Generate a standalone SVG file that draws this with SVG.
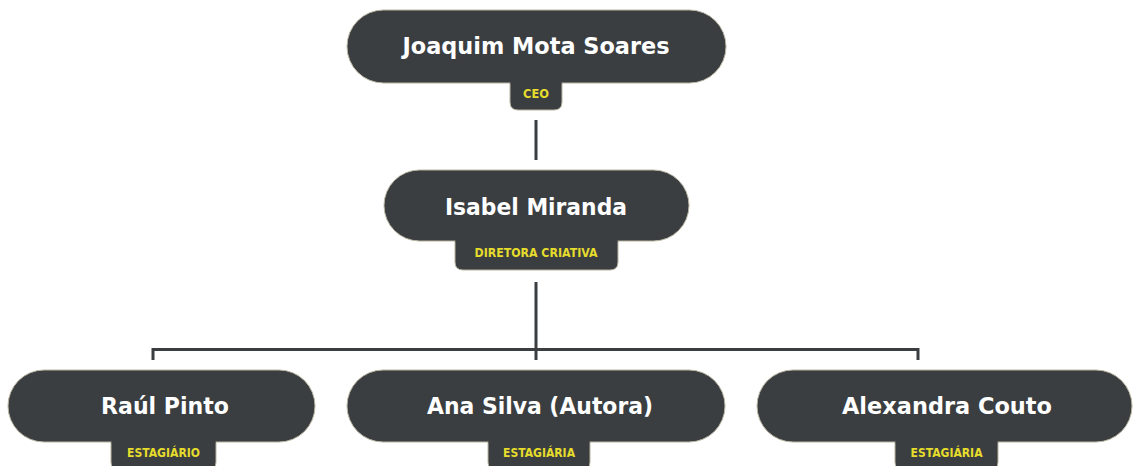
<svg xmlns="http://www.w3.org/2000/svg" width="1133" height="466" viewBox="0 0 1133 466">
<style>
.pill{fill:#3a3e41;stroke:#b9b5a2;stroke-width:1}
.tab{fill:#3a3e41;stroke:#b9b5a2;stroke-width:1}
.seam{fill:#3a3e41}
.name{font-family:"DejaVu Sans",sans-serif;font-weight:bold;font-size:23px;fill:#ffffff;text-anchor:middle}
.role{font-family:"DejaVu Sans",sans-serif;font-weight:bold;font-size:12px;fill:#e6dc2c;text-anchor:middle}
.conn{fill:none;stroke:#3a3e41;stroke-width:3}
</style>
<rect width="1133" height="466" fill="#ffffff"/>
<g id="connectors">
<line class="conn" x1="536" y1="120" x2="536" y2="160"/>
<line class="conn" x1="536" y1="282" x2="536" y2="360"/>
<polyline class="conn" points="153,360 153,349.5 918,349.5 918,360"/>
</g>
<g id="node-joaquim">
<rect class="pill" x="347" y="10" width="379" height="73" rx="36.5"/>
<path class="tab" d="M510,83 V102 Q510,110 518,110 H554 Q562,110 562,102 V83"/>
<rect class="seam" x="510.5" y="80" width="51" height="4"/>
<text class="name" x="536" y="54" textLength="267" lengthAdjust="spacingAndGlyphs">Joaquim Mota Soares</text>
<text class="role" x="536" y="98" textLength="26" lengthAdjust="spacingAndGlyphs">CEO</text>
</g>
<g id="node-isabel">
<rect class="pill" x="384" y="170" width="305" height="71" rx="35.5"/>
<path class="tab" d="M455,241 V262 Q455,270 463,270 H610 Q618,270 618,262 V241"/>
<rect class="seam" x="455.5" y="238" width="162" height="4"/>
<text class="name" x="536" y="215" textLength="182" lengthAdjust="spacingAndGlyphs">Isabel Miranda</text>
<text class="role" x="536" y="257" textLength="123" lengthAdjust="spacingAndGlyphs">DIRETORA CRIATIVA</text>
</g>
<g id="node-raul">
<rect class="pill" x="8" y="370" width="307" height="72" rx="36"/>
<path class="tab" d="M111,442 V462 Q111,470 119,470 H208 Q216,470 216,462 V442"/>
<rect class="seam" x="111.5" y="439" width="104" height="4"/>
<text class="name" x="165" y="414" textLength="128" lengthAdjust="spacingAndGlyphs">Raúl Pinto</text>
<text class="role" x="163.5" y="457" textLength="73" lengthAdjust="spacingAndGlyphs">ESTAGIÁRIO</text>
</g>
<g id="node-ana">
<rect class="pill" x="347" y="370" width="378" height="72" rx="36"/>
<path class="tab" d="M488,442 V462 Q488,470 496,470 H582 Q590,470 590,462 V442"/>
<rect class="seam" x="488.5" y="439" width="101" height="4"/>
<text class="name" x="540" y="414" textLength="226" lengthAdjust="spacingAndGlyphs">Ana Silva (Autora)</text>
<text class="role" x="539" y="457" textLength="72" lengthAdjust="spacingAndGlyphs">ESTAGIÁRIA</text>
</g>
<g id="node-alexandra">
<rect class="pill" x="757" y="370" width="375" height="72" rx="36"/>
<path class="tab" d="M895,442 V462 Q895,470 903,470 H990 Q998,470 998,462 V442"/>
<rect class="seam" x="895.5" y="439" width="102" height="4"/>
<text class="name" x="947" y="414" textLength="210" lengthAdjust="spacingAndGlyphs">Alexandra Couto</text>
<text class="role" x="946.5" y="457" textLength="72" lengthAdjust="spacingAndGlyphs">ESTAGIÁRIA</text>
</g>
</svg>
